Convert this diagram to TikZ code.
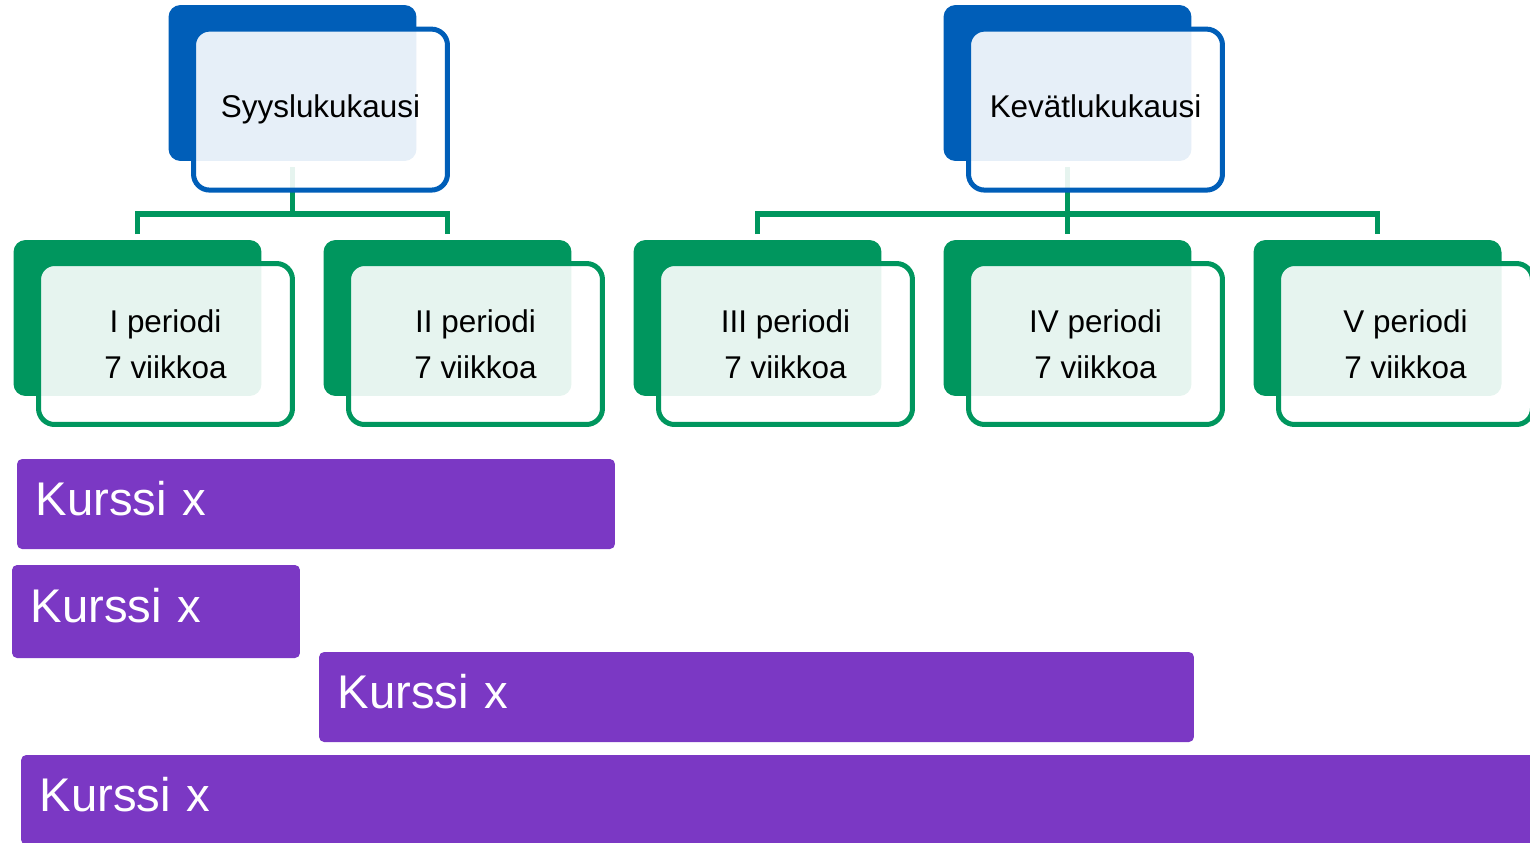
\documentclass[tikz,border=0pt]{standalone}
\usepackage{fontspec}
\setmainfont{Liberation Sans}
\usepackage{tikz}
\usetikzlibrary{positioning}
\usetikzlibrary{backgrounds}
\definecolor{lukublue}{RGB}{0,94,184}
\definecolor{periodgreen}{RGB}{0,150,94}
\definecolor{kurssipurple}{RGB}{123,56,196}
\tikzset{
    semback/.style={fill=lukublue, rounded corners=0.24cm, inner sep=0pt, outer sep=0pt,
        minimum width=4.96cm, minimum height=3.12cm},
    semfront/.style={draw=lukublue, line width=0.1cm, fill=white, fill opacity=0.9, text opacity=1,
        rounded corners=0.32cm, inner sep=0pt, outer sep=0pt, text depth=0.13cm,
        minimum width=5.08cm, minimum height=3.22cm, font=\fontsize{17.9}{26}\selectfont},
    perback/.style={semback, fill=periodgreen},
    perfront/.style={semfront, draw=periodgreen, align=center, text depth=0pt},
    course/.style={fill=kurssipurple, rounded corners=0.1cm, text=white, align=left,
        inner xsep=0.37cm, inner ysep=0pt, minimum height=1.8cm, text depth=0.24cm,
        font=\fontsize{26.9}{32}\selectfont},
    branch/.style={draw=periodgreen, line width=0.11cm},
}
\begin{document}
\begin{tikzpicture}[x=0.02cm, y=-0.02cm]
	\useasboundingbox (0,0) rectangle (1530,842);
	% lukukaudet
	\node[semback] (syysb) at (292.5,83) {};
	\node[semfront] (syys) at ([shift={(28,26.6)}]syysb.center) {Syyslukukausi};
	\node[semback] (kevatb) at (1067.5,83) {};
	\node[semfront] (kevat) at ([shift={(28,26.6)}]kevatb.center) {Kevätlukukausi};
	% periodit
	\node[perback] (p1b) at (137.5,318) {};
	\node[perfront] (p1) at ([shift={(28,26)}]p1b.center) {I periodi\\7 viikkoa};
	\node[perback] (p2b) at (447.5,318) {};
	\node[perfront] (p2) at ([shift={(28,26)}]p2b.center) {II periodi\\7 viikkoa};
	\node[perback] (p3b) at (757.5,318) {};
	\node[perfront] (p3) at ([shift={(28,26)}]p3b.center) {III periodi\\7 viikkoa};
	\node[perback] (p4b) at (1067.5,318) {};
	\node[perfront] (p4) at ([shift={(28,26)}]p4b.center) {IV periodi\\7 viikkoa};
	\node[perback] (p5b) at (1377.5,318) {};
	\node[perfront] (p5) at ([shift={(28,26)}]p5b.center) {V periodi\\7 viikkoa};
	\begin{scope}[on background layer]
		\coordinate (rail) at (0,213.8);
		\draw[branch, shorten <=0.12cm] (syysb.south) -- (syysb.south |- rail);
		\draw[branch, shorten <=0.12cm, shorten >=0.12cm] (p1b.north) |- (p2b.north |- rail) -- (p2b.north);
		\draw[branch, shorten <=0.12cm, shorten >=0.12cm] (kevatb.south) -- (p4b.north);
		\draw[branch, shorten <=0.12cm, shorten >=0.12cm] (p3b.north) |- (p5b.north |- rail) -- (p5b.north);
	\end{scope}
	% kurssit
	\node[course, text width=11.22cm] (k1) at (316,504) {Kurssi x};
	\node[course, text width=5.02cm, minimum height=1.86cm] (k2) at (156,611.5) {Kurssi x};
	\node[course, text width=16.76cm] (k3) at (756.5,697) {Kurssi x};
	\node[course, text width=29.74cm] (k4) at (783,800) {Kurssi x};
\end{tikzpicture}
\end{document}
